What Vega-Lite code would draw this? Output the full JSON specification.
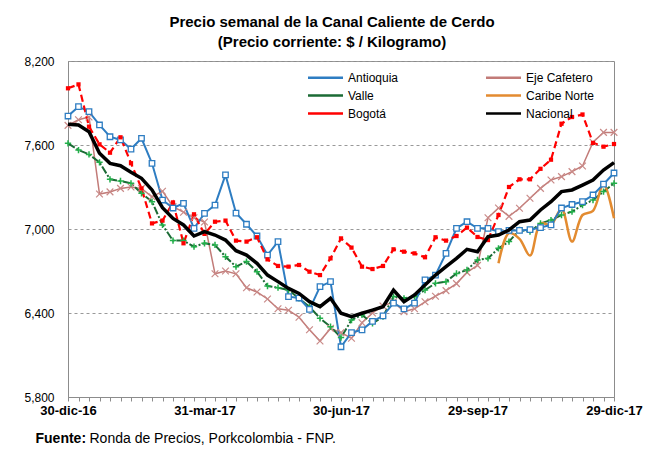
{
  "$schema": "https://vega.github.io/schema/vega-lite/v6.json",
  "width": 546,
  "height": 336,
  "autosize": {"type": "none"},
  "padding": {"left": 68, "top": 61, "right": 44, "bottom": 64},
  "background": "white",
  "config": {
    "font": "Liberation Sans",
    "view": {"stroke": "#8c8c8c", "strokeWidth": 1},
    "axis": {"labelColor": "#000", "titleColor": "#000"}
  },
  "title": {
    "text": ["Precio semanal de la Canal Caliente de Cerdo", "(Precio corriente: $ / Kilogramo)"],
    "font": "Liberation Sans Narrow, Arial Narrow, Liberation Sans",
    "fontSize": 15,
    "fontWeight": "bold",
    "color": "#000",
    "anchor": "middle",
    "dx": -9,
    "offset": 5,
    "lineHeight": 20
  },
  "data": {
    "values": [
      {"fecha": "2016-12-30", "Antioquia": 7807, "Eje Cafetero": 7740, "Valle": 7612, "Bogotá": 8005, "Nacional": 7748},
      {"fecha": "2017-01-06", "Antioquia": 7874, "Eje Cafetero": 7780, "Valle": 7564, "Bogotá": 8033, "Nacional": 7743},
      {"fecha": "2017-01-13", "Antioquia": 7838, "Eje Cafetero": 7800, "Valle": 7533, "Bogotá": 7731, "Nacional": 7695},
      {"fecha": "2017-01-20", "Antioquia": 7743, "Eje Cafetero": 7250, "Valle": 7476, "Bogotá": 7605, "Nacional": 7541},
      {"fecha": "2017-01-27", "Antioquia": 7659, "Eje Cafetero": 7265, "Valle": 7355, "Bogotá": 7545, "Nacional": 7469},
      {"fecha": "2017-02-03", "Antioquia": 7636, "Eje Cafetero": 7290, "Valle": 7343, "Bogotá": 7655, "Nacional": 7452},
      {"fecha": "2017-02-10", "Antioquia": 7571, "Eje Cafetero": 7300, "Valle": 7326, "Bogotá": 7470, "Nacional": 7405},
      {"fecha": "2017-02-17", "Antioquia": 7648, "Eje Cafetero": 7290, "Valle": 7255, "Bogotá": 7290, "Nacional": 7362},
      {"fecha": "2017-02-24", "Antioquia": 7469, "Eje Cafetero": 7230, "Valle": 7195, "Bogotá": 7040, "Nacional": 7279},
      {"fecha": "2017-03-03", "Antioquia": 7207, "Eje Cafetero": 7270, "Valle": 7029, "Bogotá": 7060, "Nacional": 7152},
      {"fecha": "2017-03-10", "Antioquia": 7150, "Eje Cafetero": 7160, "Valle": 6917, "Bogotá": 7190, "Nacional": 7076},
      {"fecha": "2017-03-17", "Antioquia": 7183, "Eje Cafetero": 7120, "Valle": 6917, "Bogotá": 6898, "Nacional": 7029},
      {"fecha": "2017-03-24", "Antioquia": 7005, "Eje Cafetero": 7080, "Valle": 6874, "Bogotá": 7105, "Nacional": 6950},
      {"fecha": "2017-03-31", "Antioquia": 7112, "Eje Cafetero": 7050, "Valle": 6898, "Bogotá": 6965, "Nacional": 6981},
      {"fecha": "2017-04-07", "Antioquia": 7171, "Eje Cafetero": 6680, "Valle": 6886, "Bogotá": 7052, "Nacional": 6957},
      {"fecha": "2017-04-14", "Antioquia": 7386, "Eje Cafetero": 6700, "Valle": 6802, "Bogotá": 7060, "Nacional": 6921},
      {"fecha": "2017-04-21", "Antioquia": 7114, "Eje Cafetero": 6680, "Valle": 6731, "Bogotá": 6917, "Nacional": 6845},
      {"fecha": "2017-04-28", "Antioquia": 7034, "Eje Cafetero": 6580, "Valle": 6767, "Bogotá": 6910, "Nacional": 6814},
      {"fecha": "2017-05-05", "Antioquia": 6950, "Eje Cafetero": 6550, "Valle": 6695, "Bogotá": 6941, "Nacional": 6755},
      {"fecha": "2017-05-12", "Antioquia": 6814, "Eje Cafetero": 6500, "Valle": 6593, "Bogotá": 6783, "Nacional": 6671},
      {"fecha": "2017-05-19", "Antioquia": 6910, "Eje Cafetero": 6430, "Valle": 6581, "Bogotá": 6736, "Nacional": 6624},
      {"fecha": "2017-05-26", "Antioquia": 6517, "Eje Cafetero": 6420, "Valle": 6564, "Bogotá": 6731, "Nacional": 6576},
      {"fecha": "2017-06-02", "Antioquia": 6507, "Eje Cafetero": 6370, "Valle": 6505, "Bogotá": 6743, "Nacional": 6540},
      {"fecha": "2017-06-09", "Antioquia": 6426, "Eje Cafetero": 6280, "Valle": 6445, "Bogotá": 6695, "Nacional": 6481},
      {"fecha": "2017-06-16", "Antioquia": 6588, "Eje Cafetero": 6200, "Valle": 6362, "Bogotá": 6671, "Nacional": 6445},
      {"fecha": "2017-06-23", "Antioquia": 6624, "Eje Cafetero": 6290, "Valle": 6302, "Bogotá": 6790, "Nacional": 6505},
      {"fecha": "2017-06-30", "Antioquia": 6159, "Eje Cafetero": 6260, "Valle": 6225, "Bogotá": 6933, "Nacional": 6398},
      {"fecha": "2017-07-07", "Antioquia": 6260, "Eje Cafetero": 6220, "Valle": 6350, "Bogotá": 6867, "Nacional": 6374},
      {"fecha": "2017-07-14", "Antioquia": 6280, "Eje Cafetero": 6330, "Valle": 6386, "Bogotá": 6731, "Nacional": 6398},
      {"fecha": "2017-07-21", "Antioquia": 6340, "Eje Cafetero": 6400, "Valle": 6326, "Bogotá": 6714, "Nacional": 6421},
      {"fecha": "2017-07-28", "Antioquia": 6380, "Eje Cafetero": 6450, "Valle": 6374, "Bogotá": 6736, "Nacional": 6445},
      {"fecha": "2017-08-04", "Antioquia": 6470, "Eje Cafetero": 6480, "Valle": 6517, "Bogotá": 6855, "Nacional": 6564},
      {"fecha": "2017-08-11", "Antioquia": 6430, "Eje Cafetero": 6410, "Valle": 6505, "Bogotá": 6838, "Nacional": 6481},
      {"fecha": "2017-08-18", "Antioquia": 6470, "Eje Cafetero": 6430, "Valle": 6517, "Bogotá": 6826, "Nacional": 6529},
      {"fecha": "2017-08-25", "Antioquia": 6636, "Eje Cafetero": 6480, "Valle": 6564, "Bogotá": 6798, "Nacional": 6600},
      {"fecha": "2017-09-01", "Antioquia": 6671, "Eje Cafetero": 6520, "Valle": 6612, "Bogotá": 6941, "Nacional": 6671},
      {"fecha": "2017-09-08", "Antioquia": 6826, "Eje Cafetero": 6560, "Valle": 6624, "Bogotá": 6917, "Nacional": 6731},
      {"fecha": "2017-09-15", "Antioquia": 7005, "Eje Cafetero": 6610, "Valle": 6683, "Bogotá": 6950, "Nacional": 6790},
      {"fecha": "2017-09-22", "Antioquia": 7052, "Eje Cafetero": 6690, "Valle": 6707, "Bogotá": 7010, "Nacional": 6855},
      {"fecha": "2017-09-29", "Antioquia": 7005, "Eje Cafetero": 6740, "Valle": 6779, "Bogotá": 6943, "Nacional": 6838},
      {"fecha": "2017-10-06", "Antioquia": 7005, "Eje Cafetero": 7080, "Valle": 6790, "Bogotá": 6921, "Nacional": 6945},
      {"fecha": "2017-10-13", "Antioquia": 6981, "Eje Cafetero": 7150, "Valle": 6862, "Caribe Norte": 6755, "Bogotá": 7100, "Nacional": 6957},
      {"fecha": "2017-10-20", "Antioquia": 6990, "Eje Cafetero": 7090, "Valle": 6910, "Caribe Norte": 6970, "Bogotá": 7300, "Nacional": 6993},
      {"fecha": "2017-10-27", "Antioquia": 6990, "Eje Cafetero": 7148, "Valle": 6993, "Caribe Norte": 6930, "Bogotá": 7355, "Nacional": 7052},
      {"fecha": "2017-11-03", "Antioquia": 6995, "Eje Cafetero": 7220, "Valle": 6981, "Caribe Norte": 6810, "Bogotá": 7355, "Nacional": 7064},
      {"fecha": "2017-11-10", "Antioquia": 7010, "Eje Cafetero": 7290, "Valle": 7040, "Caribe Norte": 7040, "Bogotá": 7430, "Nacional": 7136},
      {"fecha": "2017-11-17", "Antioquia": 7030, "Eje Cafetero": 7350, "Valle": 7064, "Caribe Norte": 7030, "Bogotá": 7495, "Nacional": 7195},
      {"fecha": "2017-11-24", "Antioquia": 7150, "Eje Cafetero": 7374, "Valle": 7100, "Caribe Norte": 7145, "Bogotá": 7752, "Nacional": 7267},
      {"fecha": "2017-12-01", "Antioquia": 7175, "Eje Cafetero": 7410, "Valle": 7124, "Caribe Norte": 6910, "Bogotá": 7800, "Nacional": 7279},
      {"fecha": "2017-12-08", "Antioquia": 7195, "Eje Cafetero": 7450, "Valle": 7171, "Caribe Norte": 7100, "Bogotá": 7818, "Nacional": 7314},
      {"fecha": "2017-12-15", "Antioquia": 7243, "Eje Cafetero": 7620, "Valle": 7207, "Caribe Norte": 7130, "Bogotá": 7615, "Nacional": 7350},
      {"fecha": "2017-12-22", "Antioquia": 7320, "Eje Cafetero": 7690, "Valle": 7267, "Caribe Norte": 7320, "Bogotá": 7588, "Nacional": 7421},
      {"fecha": "2017-12-29", "Antioquia": 7400, "Eje Cafetero": 7690, "Valle": 7326, "Caribe Norte": 7076, "Bogotá": 7607, "Nacional": 7474}
    ]
  },
  "transform": [
    {"fold": ["Antioquia", "Eje Cafetero", "Valle", "Caribe Norte", "Bogotá", "Nacional"], "as": ["serie", "precio"]},
    {"filter": "isValid(datum.precio)"}
  ],
  "encoding": {
    "x": {
      "field": "fecha",
      "type": "ordinal",
      "sort": null,
      "scale": {"type": "point", "padding": 0},
      "axis": {
        "title": "Fuente:",
        "titleFont": "Liberation Sans Narrow, Arial Narrow, Liberation Sans",
        "titleFontSize": 14,
        "titleFontWeight": "bold",
        "titleAnchor": "start",
        "titleAlign": "left",
        "titleBaseline": "alphabetic",
        "titleX": -33,
        "titleY": 45,
        "labelExpr": "indexof(['2016-12-30','2017-03-31','2017-06-30','2017-09-29','2017-12-29'], datum.value) >= 0 ? substring(datum.value,8,10) + '-' + ['','ene','feb','mar','abr','may','jun','jul','ago','sep','oct','nov','dic'][toNumber(substring(datum.value,5,7))] + '-' + substring(datum.value,2,4) : ''",
        "labelAngle": 0,
        "labelFont": "Liberation Sans Narrow, Arial Narrow, Liberation Sans",
        "labelFontWeight": "bold",
        "labelFontSize": 13,
        "labelOverlap": false,
        "labelPadding": 3,
        "tickSize": 4,
        "tickColor": "#8c8c8c",
        "domainColor": "#8c8c8c",
        "grid": false
      }
    },
    "y": {
      "field": "precio",
      "type": "quantitative",
      "scale": {"domain": [5800, 8200], "nice": false, "zero": false},
      "axis": {
        "values": [5800, 6400, 7000, 7600, 8200],
        "format": ",.0f",
        "title": "Ronda de Precios, Porkcolombia  - FNP.",
        "titleFont": "Liberation Sans Narrow, Arial Narrow, Liberation Sans",
        "titleFontSize": 14,
        "titleFontWeight": "normal",
        "titleAngle": 0,
        "titleAlign": "left",
        "titleBaseline": "alphabetic",
        "titleX": 21,
        "titleY": 381,
        "ticks": false,
        "labelPadding": 14,
        "labelFontSize": 12,
        "grid": true,
        "gridDash": [3, 3],
        "gridColor": "#999999",
        "domainColor": "#8c8c8c"
      }
    }
  },
  "layer": [
    {
      "transform": [{"filter": "datum.serie == 'Eje Cafetero'"}],
      "mark": {"type": "line", "strokeWidth": 1.5},
      "encoding": {
        "color": {
          "field": "serie", "type": "nominal",
          "scale": {"domain": ["Antioquia", "Eje Cafetero", "Valle", "Caribe Norte", "Bogotá", "Nacional"], "range": ["#2E7DC2", "#C27B78", "#1B6B35", "#E38B30", "#FF0000", "#000000"]},
          "legend": {"orient": "none", "legendX": 251, "legendY": 10, "direction": "horizontal", "columns": 2, "columnPadding": 82, "rowPadding": 5, "title": null, "symbolType": "M-3.5,0L3.5,0", "symbolSize": 100, "symbolStrokeWidth": 2.5, "labelFontSize": 12, "labelOffset": 16, "labelColor": "#000", "symbolDash": [1, 0]}
        }
      }
    },
    {
      "transform": [{"filter": "datum.serie == 'Valle'"}],
      "mark": {"type": "line", "strokeWidth": 2, "strokeDash": [8, 2, 2, 2]},
      "encoding": {"color": {"field": "serie", "type": "nominal", "scale": {"domain": ["Antioquia", "Eje Cafetero", "Valle", "Caribe Norte", "Bogotá", "Nacional"], "range": ["#2E7DC2", "#C27B78", "#1B6B35", "#E38B30", "#FF0000", "#000000"]}}}
    },
    {
      "transform": [{"filter": "datum.serie == 'Caribe Norte'"}],
      "mark": {"type": "line", "strokeWidth": 2.5, "interpolate": "catmull-rom"},
      "encoding": {"color": {"field": "serie", "type": "nominal", "scale": {"domain": ["Antioquia", "Eje Cafetero", "Valle", "Caribe Norte", "Bogotá", "Nacional"], "range": ["#2E7DC2", "#C27B78", "#1B6B35", "#E38B30", "#FF0000", "#000000"]}}}
    },
    {
      "transform": [{"filter": "datum.serie == 'Antioquia'"}],
      "mark": {"type": "line", "strokeWidth": 2},
      "encoding": {"color": {"field": "serie", "type": "nominal", "scale": {"domain": ["Antioquia", "Eje Cafetero", "Valle", "Caribe Norte", "Bogotá", "Nacional"], "range": ["#2E7DC2", "#C27B78", "#1B6B35", "#E38B30", "#FF0000", "#000000"]}}}
    },
    {
      "transform": [{"filter": "datum.serie == 'Bogotá'"}],
      "mark": {"type": "line", "strokeWidth": 2.2, "strokeDash": [7, 4]},
      "encoding": {"color": {"field": "serie", "type": "nominal", "scale": {"domain": ["Antioquia", "Eje Cafetero", "Valle", "Caribe Norte", "Bogotá", "Nacional"], "range": ["#2E7DC2", "#C27B78", "#1B6B35", "#E38B30", "#FF0000", "#000000"]}}}
    },
    {
      "transform": [{"filter": "datum.serie == 'Eje Cafetero'"}],
      "mark": {"type": "point", "shape": "M-1,-1L1,1M-1,1L1,-1", "filled": false, "stroke": "#C98A88", "strokeWidth": 1.2, "size": 45, "opacity": 1}
    },
    {
      "transform": [{"filter": "datum.serie == 'Valle'"}],
      "mark": {"type": "point", "shape": "M-1,0L1,0M0,-1L0,1", "filled": false, "stroke": "#22B04A", "strokeWidth": 1.5, "size": 40, "opacity": 1}
    },
    {
      "transform": [{"filter": "datum.serie == 'Antioquia'"}],
      "mark": {"type": "point", "shape": "square", "filled": true, "fill": "white", "stroke": "#2E7DC2", "strokeWidth": 1.3, "size": 30, "opacity": 1}
    },
    {
      "transform": [{"filter": "datum.serie == 'Bogotá'"}],
      "mark": {"type": "point", "shape": "square", "filled": true, "fill": "#FF0000", "strokeWidth": 0, "size": 18, "opacity": 1}
    },
    {
      "transform": [{"filter": "datum.serie == 'Nacional'"}],
      "mark": {"type": "line", "strokeWidth": 3.5},
      "encoding": {"color": {"field": "serie", "type": "nominal", "scale": {"domain": ["Antioquia", "Eje Cafetero", "Valle", "Caribe Norte", "Bogotá", "Nacional"], "range": ["#2E7DC2", "#C27B78", "#1B6B35", "#E38B30", "#FF0000", "#000000"]}}}
    }
  ]
}
